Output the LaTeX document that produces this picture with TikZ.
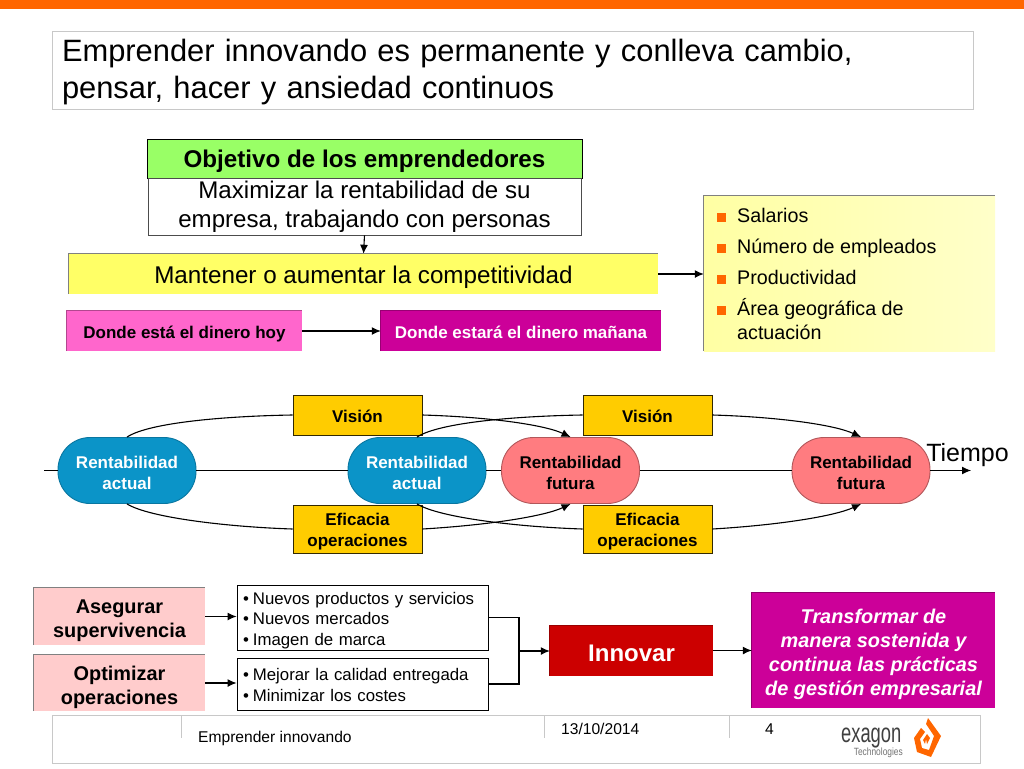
\documentclass[tikz,border=0pt]{standalone}
\usepackage{fontspec}
\setmainfont{Liberation Sans}
\usetikzlibrary{arrows.meta}

\definecolor{barorange}{HTML}{FF6600}
\definecolor{framegray}{HTML}{C8C8C8}
\definecolor{objgreen}{HTML}{99FF66}
\definecolor{compyellow}{HTML}{FFFF66}
\definecolor{hoypink}{HTML}{FF66CC}
\definecolor{futmagenta}{HTML}{CC0099}
\definecolor{actualblue}{HTML}{0B94C8}
\definecolor{futurared}{HTML}{FF7C80}
\definecolor{palegold}{HTML}{FFCC00}
\definecolor{palepink}{HTML}{FFCCCC}
\definecolor{innovred}{HTML}{CC0000}

\tikzset{
  lowered/.style={execute at begin node={\rule{0pt}{#1}}},
  box/.style={draw=black, line width=0.9pt, inner sep=0pt, align=center},
  softbox/.style={inner sep=0pt, align=center},
  pill/.style={inner sep=0pt, align=center, minimum width=138pt, minimum height=66pt,
    rounded corners=32pt, line width=0.9pt, font=\bfseries\fontsize{17}{21}\selectfont},
  goldbox/.style={box, fill=palegold, minimum width=129pt, draw=black!80!palegold,
    font=\bfseries\fontsize{17}{21}\selectfont},
  listbox/.style={box, minimum width=251pt, align=left, text width=239pt,
    font=\fontsize{16.8}{20.5}\selectfont},
  goalbox/.style={softbox, fill=palepink, minimum width=171pt,
    font=\bfseries\fontsize{19.9}{24}\selectfont},
  link/.style={-{Latex[length=9pt,width=8pt]}, line width=1.1pt},
  plain/.style={line width=1.1pt}
}
\newcommand{\itemmark}{\textcolor{barorange}{\rule{9pt}{9pt}}\hspace{11pt}}
\newcommand{\dotmark}{\textbullet\hspace{4pt}}
\newcommand{\topgap}[1]{\rule{0pt}{#1}}

\begin{document}
\begin{tikzpicture}[x=1pt, y=-1pt]
    \useasboundingbox (0,0) rectangle (1024,768);

    % Top bar and title
    \fill[barorange] (0,0) rectangle (1024,9);
    \node[draw=framegray, line width=0.9pt, minimum width=921pt, minimum height=78pt, inner sep=0pt,
      text width=901pt, align=left, lowered=27pt, font=\fontsize{30.85}{37}\selectfont] (title) at (512.5,70)
      {Emprender innovando es permanente y conlleva cambio,\\pensar, hacer y ansiedad continuos};

    % Goal
    \node[box, fill=objgreen, minimum width=435pt, minimum height=39pt, lowered=23.7pt,
      font=\bfseries\fontsize{24.2}{28}\selectfont] (objetivo) at (364.5,158.5) {Objetivo de los emprendedores};
    \node[box, draw=black!70, fill=white, minimum width=433pt, minimum height=57pt,
      font=\fontsize{24.1}{29}\selectfont] (maximizar) at (364.5,206.5)
      {Maximizar la rentabilidad de su\\empresa, trabajando con personas};
    \node[softbox, fill=compyellow, minimum width=589pt, minimum height=40pt, lowered=23.7pt,
      font=\fontsize{24.2}{28}\selectfont] (mantener) at (363.5,274) {Mantener o aumentar la competitividad};
    \node[softbox, fill=hoypink, minimum width=235pt, minimum height=40pt, lowered=18.4pt,
      font=\bfseries\fontsize{17}{20}\selectfont] (hoy) at (184.5,331) {Donde está el dinero hoy};
    \node[softbox, fill=futmagenta, text=white, minimum width=280pt, minimum height=40pt, lowered=14.4pt,
      font=\bfseries\fontsize{17}{20}\selectfont] (manana) at (521,331) {Donde estará el dinero mañana};

    % Indicators
    \node[softbox, left color=compyellow!60!white, right color=compyellow!35!white,
      minimum width=291pt, minimum height=155pt] (indicadores) at (849.5,273.5) {};
    \node[inner sep=0pt, align=left, anchor=north west, font=\fontsize{19.7}{24}\selectfont] (lista) at (717,208)
      {\itemmark Salarios\\[7pt]\itemmark Número de empleados\\[7pt]\itemmark Productividad\\[7pt]
       \itemmark Área geográfica de\\\phantom{\itemmark}actuación};

    % Time line
    \coordinate (inicio) at (44,470.5);
    \coordinate (fin) at (971,470.5);
    \node[pill, draw=actualblue!80!black, fill=actualblue, text=white] (actual1) at (127,470.5) {\topgap{16.4pt}Rentabilidad\\actual};
    \node[pill, draw=actualblue!80!black, fill=actualblue, text=white] (actual2) at (417,470.5) {\topgap{16.4pt}Rentabilidad\\actual};
    \node[pill, draw=futurared!70!black, fill=futurared] (futura1) at (570.5,470.5) {\topgap{16.4pt}Rentabilidad\\futura};
    \node[pill, draw=futurared!70!black, fill=futurared] (futura2) at (861,470.5) {\topgap{16.4pt}Rentabilidad\\futura};
    \node[inner sep=0pt, font=\fontsize{25}{28}\selectfont] (tiempo) at (967.5,455) {Tiempo};

    \node[goldbox, minimum height=40pt, lowered=14.4pt] (vision1) at (357.5,415) {Visión};
    \node[goldbox, minimum height=40pt, lowered=14.4pt] (vision2) at (647.5,415) {Visión};
    \node[goldbox, minimum height=48pt] (eficacia1) at (357.5,529) {\topgap{18.4pt}Eficacia\\operaciones};
    \node[goldbox, minimum height=48pt] (eficacia2) at (647.5,529) {\topgap{18.4pt}Eficacia\\operaciones};

    \draw[plain] (inicio) -- (actual1.west);
    \draw[plain] (actual1.east) -- (actual2.west);
    \draw[plain] (actual2.east) -- (futura1.west);
    \draw[plain] (futura1.east) -- (futura2.west);
    \draw[link] (futura2.east) -- (fin);

    \draw[plain] (actual1.north) .. controls (150,422) and (230,416) .. (vision1.west);
    \draw[link] (vision1.east) .. controls (490,417) and (545,425) .. (futura1.north);
    \draw[plain] (actual2.north) .. controls (440,422) and (520,416) .. (vision2.west);
    \draw[link] (vision2.east) .. controls (780,417) and (835,425) .. (futura2.north);
    \draw[plain] (actual1.south) .. controls (150,518) and (230,527) .. (eficacia1.west);
    \draw[link] (eficacia1.east) .. controls (490,525) and (545,516) .. (futura1.south);
    \draw[plain] (actual2.south) .. controls (440,518) and (520,527) .. (eficacia2.west);
    \draw[link] (eficacia2.east) .. controls (780,525) and (835,516) .. (futura2.south);

    \draw[link] (maximizar.south) -- (mantener.north);
    \draw[link] (mantener.east) -- (mantener.east -| indicadores.west);
    \draw[link] (hoy.east) -- (manana.west);

    % Innovation
    \node[goalbox, minimum height=57pt] (asegurar) at (119.5,616.5) {\topgap{22.5pt}Asegurar\\supervivencia};
    \node[goalbox, minimum height=56pt] (optimizar) at (119.5,683) {\topgap{22.5pt}Optimizar\\operaciones};
    \node[listbox, minimum height=65pt, lowered=18.3pt] (nuevos) at (362.5,617.5)
      {\dotmark Nuevos productos y servicios\\\dotmark Nuevos mercados\\\dotmark Imagen de marca};
    \node[listbox, minimum height=52pt, lowered=14.3pt] (mejorar) at (362.5,684)
      {\dotmark Mejorar la calidad entregada\\\dotmark Minimizar los costes};
    \node[softbox, fill=innovred, text=white, minimum width=163pt, minimum height=50pt, lowered=21.5pt,
      font=\bfseries\fontsize{24}{28}\selectfont] (innovar) at (631.5,650.5) {Innovar};
    \node[softbox, fill=futmagenta, text=white, minimum width=243pt, minimum height=115pt,
      font=\bfseries\itshape\fontsize{19.9}{24}\selectfont] (transformar) at (873.5,650.5)
      {\topgap{21.5pt}Transformar de\\manera sostenida y\\continua las prácticas\\de gestión empresarial};

    % Darker top and left edges
    \foreach \boxname/\edgecolor in {mantener/gray, indicadores/gray, hoy/hoypink!70!black,
        manana/futmagenta!75!black, asegurar/gray, optimizar/gray,
        innovar/innovred!75!black, transformar/futmagenta!70!black}
      \draw[\edgecolor, line width=1pt] (\boxname.south west) -- (\boxname.north west) -- (\boxname.north east);

    \coordinate (union) at (519,651);
    \draw[link] (asegurar.east) -- (asegurar.east -| nuevos.west);
    \draw[link] (optimizar.east) -- (optimizar.east -| mejorar.west);
    \draw[plain] (nuevos.east) -| (union);
    \draw[plain] (mejorar.east) -| (union);
    \draw[link] (union) -- (union -| innovar.west);
    \draw[link] (innovar.east) -- (innovar.east -| transformar.west);

    % Footer
    \node[draw=framegray, line width=0.9pt, minimum width=928pt, minimum height=48pt, inner sep=0pt] (pie) at (516,739) {};
    \foreach \tickx in {181,544,729}
      \draw[framegray, line width=0.8pt] (\tickx,715) -- (\tickx,738);
    \node[anchor=west, inner sep=0pt, font=\fontsize{15.6}{17}\selectfont] (tema) at (198,738.5) {Emprender innovando};
    \node[anchor=west, inner sep=0pt, font=\fontsize{15.6}{17}\selectfont] (fecha) at (561,729) {13/10/2014};
    \node[anchor=west, inner sep=0pt, font=\fontsize{15.6}{17}\selectfont] (pagina) at (765,729) {4};

    % Logo
    \node[anchor=base west, inner sep=0pt, xscale=.68, transform shape, text=black!75, font=\fontsize{27}{29}\selectfont] (exagon) at (841,742) {exagon};
    \node[anchor=east, inner sep=0pt, xscale=.8, transform shape, text=black!55, font=\fontsize{10.5}{13}\selectfont] (tecnologia) at (903,753) {Technologies};
    \fill[barorange, even odd rule] (928,718) -- (941,736) -- (931,757) -- (917,752) -- (914,738) -- (921,728) -- (925,732)
      -- (920,739) -- (922,748) -- (929,750) -- (934,736) -- (926,724) -- cycle;
    \fill[barorange] (923,740) -- (927,734) -- (930,738) -- (927,744) -- (926,739) -- (925,744) -- cycle;

\end{tikzpicture}
\end{document}
